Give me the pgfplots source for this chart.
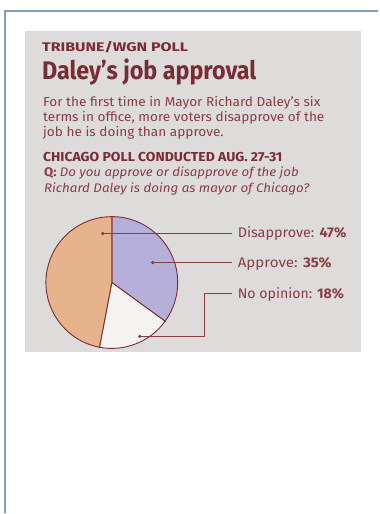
\documentclass[border=0pt]{standalone}
\usepackage{pgfplots}
\pgfplotsset{compat=1.18}
\usepackage{pgfplotstable}
\usepackage{fontspec}
\setmainfont{Fira Sans}

\definecolor{frame}{HTML}{849EB6}
\definecolor{panel}{HTML}{DEDCDB}
\definecolor{ink}{HTML}{8C3B42}
\definecolor{inkdark}{HTML}{7A2B34}
\definecolor{disap}{HTML}{E7B38D}
\definecolor{appr}{HTML}{B6AFDA}
\definecolor{noop}{HTML}{F5F3F1}
\definecolor{edge}{HTML}{7A2E2E}

\tikzset{lab/.style={anchor=base west, inner sep=0pt}}

% poll shares, in percent, clockwise from 12 o'clock
\pgfplotstableread{
label value
Approve 35
NoOpinion 18
Disapprove 47
}\piedata

\begin{document}
\begin{tikzpicture}
\pgfplotstablegetelem{0}{value}\of\piedata \let\va\pgfplotsretval
\pgfplotstablegetelem{1}{value}\of\piedata \let\vb\pgfplotsretval
\pgfplotstablegetelem{2}{value}\of\piedata \let\vc\pgfplotsretval
\pgfmathsetmacro\aA{90-3.6*\va}
\pgfmathsetmacro\aB{\aA-3.6*\vb}
\pgfmathsetmacro\aC{\aB-3.6*\vc}
\begin{axis}[
    scale only axis, width=379pt, height=514pt,
    xmin=0, xmax=379, ymin=0, ymax=514, y dir=reverse,
    hide axis, clip=false,
]
% page, frame and grey panel
\path (axis cs:0,0) rectangle (axis cs:379,514);
\draw[frame, line width=1.8pt] (axis cs:5,514) -- (axis cs:5,11) -- (axis cs:379,11);
\fill[panel] (axis cs:25,31) rectangle (axis cs:362,353);

% headings
\node[lab, inkdark, xscale=1.28, font=\fontsize{12.5}{14}\selectfont\bfseries] at (axis cs:42,52) {TRIBUNE/WGN POLL};
\node[lab, inkdark, xscale=0.915, font=\fontsize{25.5}{28}\selectfont\bfseries] at (axis cs:42,80) {Daley’s job approval};
\node[lab, ink, xscale=1.05, font=\fontsize{13}{15}\selectfont] at (axis cs:43,107) {For the first time in Mayor Richard Daley’s six};
\node[lab, ink, xscale=1.05, font=\fontsize{13}{15}\selectfont] at (axis cs:43,122) {terms in office, more voters disapprove of the};
\node[lab, ink, xscale=1.05, font=\fontsize{13}{15}\selectfont] at (axis cs:43,137) {job he is doing than approve.};
\node[lab, inkdark, xscale=1.075, font=\fontsize{13}{15}\selectfont\bfseries] at (axis cs:43,162) {CHICAGO POLL CONDUCTED AUG. 27-31};
\node[lab, ink, xscale=1.06, font=\fontsize{12.5}{15}\selectfont] at (axis cs:44,177) {\textbf{Q:} \textit{Do you approve or disapprove of the job}};
\node[lab, ink, xscale=1.07, font=\fontsize{12.5}{15}\selectfont\itshape] at (axis cs:44,193) {Richard Daley is doing as mayor of Chicago?};

% pie
\filldraw[fill=appr, draw=edge, line width=0.9pt] (axis cs:112,283) -- ++(90:66pt) arc[start angle=90, end angle=\aA, radius=66pt] -- cycle;
\filldraw[fill=noop, draw=edge, line width=0.9pt] (axis cs:112,283) -- ++(\aA:66pt) arc[start angle=\aA, end angle=\aB, radius=66pt] -- cycle;
\filldraw[fill=disap, draw=edge, line width=0.9pt] (axis cs:112,283) -- ++(\aB:66pt) arc[start angle=\aB, end angle=\aC, radius=66pt] -- cycle;

% leaders
\draw[ink, line width=0.7pt] (axis cs:103,234) -- (axis cs:232,234);
\draw[ink, line width=0.7pt] (axis cs:153,263) -- (axis cs:232,263);
\draw[ink, line width=0.7pt] (axis cs:140,337) -- (axis cs:205,337) -- (axis cs:205,294) -- (axis cs:232,294);
\fill[ink] (axis cs:103,234) circle[radius=1.8pt];
\fill[ink] (axis cs:153,263) circle[radius=1.8pt];
\fill[ink] (axis cs:140,337) circle[radius=1.8pt];

\node[lab, ink, xscale=1.03, font=\fontsize{14}{16}\selectfont] at (axis cs:238,238) {Disapprove: \textbf{47\%}};
\node[lab, ink, xscale=1.08, font=\fontsize{14}{16}\selectfont] at (axis cs:238,268) {Approve: \textbf{35\%}};
\node[lab, ink, xscale=1.01, font=\fontsize{14}{16}\selectfont] at (axis cs:238,299) {No opinion: \textbf{18\%}};
\end{axis}
\end{tikzpicture}
\end{document}
